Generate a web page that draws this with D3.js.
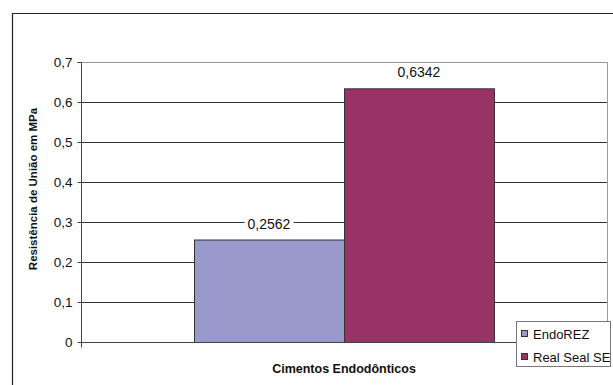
<!DOCTYPE html>
<html><head><meta charset="utf-8">
<script src="https://cdn.jsdelivr.net/npm/d3@7"></script>
<style>body{margin:0;background:#fff}svg{display:block}text{font-family:"Liberation Sans",Arial,sans-serif}</style>
</head><body>
<svg id="c" width="613" height="385"></svg>
<script>
const categories = ["Cimentos Endodônticos"];
const seriesNames = ["EndoREZ", "Real Seal SE"];
const seriesValues = [0.2562, 0.6342];
const seriesColors = ["#9999cc", "#993366"];
const yTicks = [0, 0.1, 0.2, 0.3, 0.4, 0.5, 0.6, 0.7];

const svg = d3.select("#c");
const L = 81, R = 607, T = 62, B = 342;
const fmt = v => String(v).replace(".", ",");

// outer frame
svg.append("path").attr("d", "M12.5,400V13.5H620").attr("fill", "none").attr("stroke", "#222").attr("stroke-width", 1.2);

const y = d3.scaleLinear().domain([0, 0.7]).range([B, T]);
const x0 = d3.scaleBand().domain(categories).range([L, R]).paddingInner(0).paddingOuter(0);
const cw = x0.bandwidth();
const gw = cw * 300 / 526;
const x1 = d3.scaleBand().domain(seriesNames).range([(cw - gw) / 2, (cw + gw) / 2]);

// gridlines
svg.append("g").selectAll("line").data(yTicks.filter(t => t > 0 && t < 0.7)).join("line")
  .attr("x1", L).attr("x2", R).attr("y1", d => Math.round(y(d)) + 0.5).attr("y2", d => Math.round(y(d)) + 0.5)
  .attr("stroke", "#333").attr("stroke-width", 1);

// plot border top/right
svg.append("path").attr("d", `M${L},${T + 0.5}H${R + 0.5}V${B}`).attr("fill", "none").attr("stroke", "#999");

// bars
const gBars = svg.append("g").attr("transform", `translate(${x0(categories[0])},0)`);
gBars.selectAll("rect").data(seriesValues).join("rect")
  .attr("x", (d, i) => x1(seriesNames[i]) + 0.5)
  .attr("y", d => y(d) + 0.5)
  .attr("width", x1.bandwidth())
  .attr("height", d => B - y(d))
  .attr("fill", (d, i) => seriesColors[i])
  .attr("stroke", "#333").attr("stroke-width", 1);

// value labels
seriesValues.forEach((d, i) => {
  const cx = x0(categories[0]) + x1(seriesNames[i]) + x1.bandwidth() / 2;
  const cy = y(d) - 16;
  const t = svg.append("text").attr("x", cx).attr("y", cy + 5).attr("text-anchor", "middle")
    .attr("font-size", 14).attr("fill", "#111").text(fmt(d));
  const bb = t.node().getBBox();
  svg.insert("rect", () => t.node()).attr("x", bb.x - 3).attr("y", bb.y - 1).attr("width", bb.width + 6).attr("height", bb.height + 2).attr("fill", "#fff");
});

// y axis
const ya = svg.append("g").attr("transform", `translate(${L + 0.5},0)`)
  .call(d3.axisLeft(y).tickValues(yTicks).tickSize(4).tickFormat(fmt));
ya.select(".domain").attr("stroke", "#444").attr("d", `M-4,${T + 0.5}H0V${B + 0.5}`);
ya.selectAll(".tick line").attr("stroke", "#444");
ya.selectAll(".tick text").attr("font-size", 13.5).attr("fill", "#111").attr("x", -9).attr("font-family", "Liberation Sans, Arial, sans-serif");

// x axis
const xa = svg.append("g").attr("transform", `translate(0,${B + 0.5})`)
  .call(d3.axisBottom(x0).tickSize(0).tickFormat(""));
xa.select(".domain").attr("stroke", "#444").attr("d", `M${L + 0.5},5V0H${R + 0.5}`);

// axis titles
svg.append("text").attr("transform", `translate(37,189) rotate(-90)`).attr("text-anchor", "middle")
  .attr("font-size", 11.5).attr("font-weight", "bold").attr("fill", "#111").text("Resistência de União em MPa");
svg.append("text").attr("x", 344).attr("y", 373).attr("text-anchor", "middle")
  .attr("font-size", 12.5).attr("font-weight", "bold").attr("fill", "#111").text(categories[0]);

// legend
const lg = svg.append("g");
lg.append("rect").attr("x", 516.5).attr("y", 321.5).attr("width", 94).attr("height", 45)
  .attr("fill", "#fff").attr("stroke", "#777");
seriesNames.forEach((n, i) => {
  const yy = 334 + i * 23;
  lg.append("rect").attr("x", 521.5).attr("y", yy - 3.5).attr("width", 6).attr("height", 6)
    .attr("fill", seriesColors[i]).attr("stroke", "#333");
  lg.append("text").attr("x", 533).attr("y", yy + 4.5).attr("font-size", 13).attr("fill", "#111").text(n);
});
</script>
</body></html>
